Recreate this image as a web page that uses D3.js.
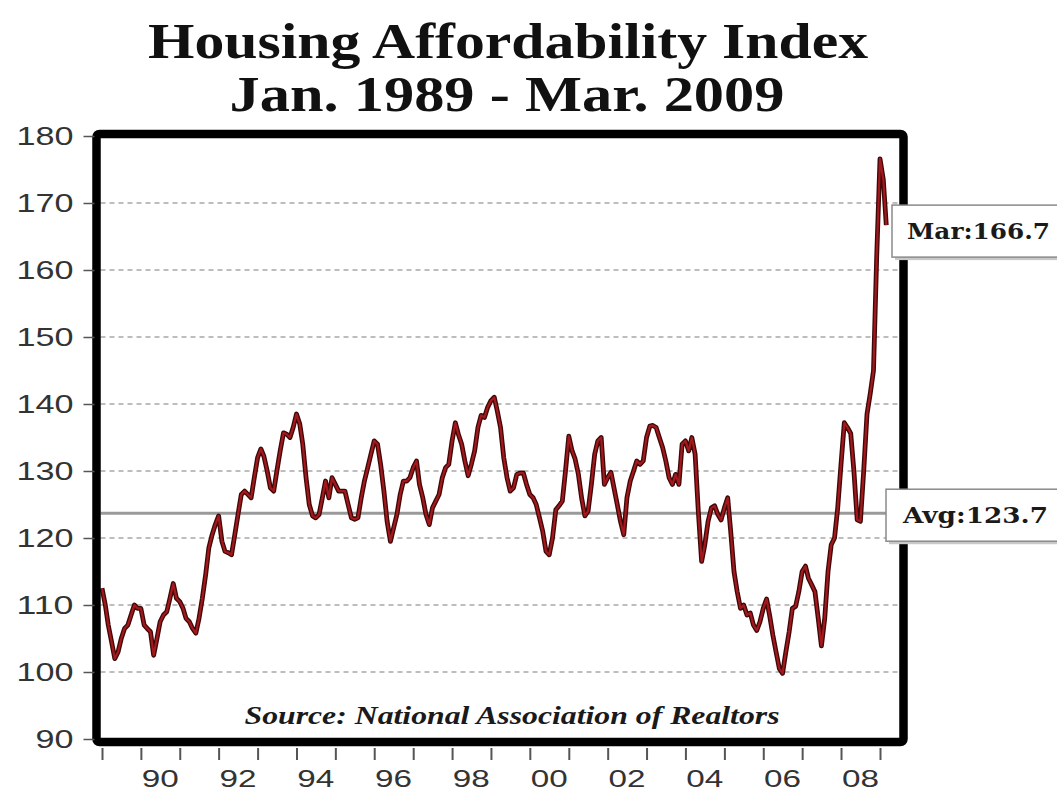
<!DOCTYPE html>
<html>
<head>
<meta charset="utf-8">
<script src="https://cdn.jsdelivr.net/npm/d3@7"></script>
<style>
  html, body { margin: 0; padding: 0; background: #ffffff; }
  svg { display: block; }
</style>
</head>
<body>
<svg id="chart" width="1057" height="793"></svg>
<script>
// Monthly Housing Affordability Index, Jan 1989 onward
const startYear = 1989;
const haiValues = [
  // 1989
  112.5, 110, 107, 104.5, 102, 103, 105, 106.5, 107, 108.5, 110, 109.5,
  // 1990
  109.5, 107, 106.5, 106, 102.5, 105, 107.5, 108.5, 109, 111, 113.2, 111,
  // 1991
  110.5, 109.5, 108, 107.5, 106.5, 105.8, 108, 111, 114.5, 118.5, 120.5, 122,
  // 1992
  123.3, 119.5, 118, 117.8, 117.5, 120.5, 123.5, 126.5, 127, 126.5, 126, 129,
  // 1993
  132, 133.3, 132.2, 130, 127.5, 127, 130, 133, 135.7, 135.5, 135, 136.5,
  // 1994
  138.5, 137, 134, 129, 125, 123.3, 123, 123.5, 126, 128.5, 126, 129,
  // 1995
  128, 127, 127, 127, 125, 123, 122.8, 123, 126, 128.5, 130.5, 132.5,
  // 1996
  134.5, 134, 131, 127, 122.5, 119.5, 121.5, 123.5, 126.5, 128.5, 128.5, 129,
  // 1997
  130.5, 131.5, 128, 126, 123.5, 122, 124.5, 125.5, 126.5, 129, 130.5, 131,
  // 1998
  134.5, 137.2, 135.5, 134, 131.5, 129.3, 131, 133, 136.5, 138.3, 138, 139.5,
  // 1999
  140.5, 141, 139, 136.5, 132, 129, 127, 127.5, 129.5, 129.7, 129.7, 128,
  // 2000
  126.5, 126, 125, 123, 121, 118, 117.5, 120, 124.2, 124.8, 125.5, 130,
  // 2001
  135.2, 133, 131.8, 129.5, 126, 123.3, 124, 128, 132.5, 134.5, 135, 128,
  // 2002
  129, 129.8, 127.5, 125, 122.5, 120.5, 126, 128.5, 130, 131.5, 131, 131.5,
  // 2003
  135, 136.7, 136.8, 136.5, 135, 133.5, 131.5, 129, 128, 129.5, 128, 134,
  // 2004
  134.5, 133, 135, 132.5, 124, 116.5, 119, 122.5, 124.5, 124.8, 123.5, 122.7,
  // 2005
  124.5, 126, 121, 115, 112, 109.5, 110, 108.5, 108.8, 107, 106.2, 107.5,
  // 2006
  109.5, 110.9, 108.5, 105.5, 103, 100.5, 99.8, 103, 106, 109.5, 109.8, 112,
  // 2007
  115, 115.8, 114, 113, 112, 108, 103.9, 108, 115, 119, 120, 124.5,
  // 2008
  131, 137.2, 136.5, 135.6, 130, 122.7, 122.5, 130, 138.5, 141.5, 145, 162,
  // 2009
  176.6, 173.5, 166.7
];
const averageValue = 123.7;
const yTickValues = [90, 100, 110, 120, 130, 140, 150, 160, 170, 180];
const gridValues = [100, 110, 120, 130, 140, 150, 160, 170];
const tickYears = d3.range(1989, 2010);
const labelYears = [1990, 1992, 1994, 1996, 1998, 2000, 2002, 2004, 2006, 2008];
const titleLines = ["Housing Affordability Index", "Jan. 1989 - Mar. 2009"];
const sourceText = "Source: National Association of Realtors";
const lastLabel = "Mar:";
const avgLabel = "Avg:";

const series = haiValues.map((v, i) => ({ date: new Date(startYear, i, 1), value: v }));
const last = series[series.length - 1];

const svg = d3.select("#chart");

const x = d3.scaleTime()
  .domain([new Date(1989, 0, 1), new Date(2009, 0, 1)])
  .range([102, 880]);
const y = d3.scaleLinear().domain([90, 180]).range([739, 136]);

const frame = { left: 96.5, right: 903.5, top: 134, bottom: 742 };

// Title
const titleG = svg.append("g")
  .attr("font-family", "'Liberation Serif', 'DejaVu Serif', serif")
  .attr("font-weight", "bold")
  .attr("fill", "#111");
titleG.append("text")
  .attr("x", 508).attr("y", 58)
  .attr("text-anchor", "middle")
  .attr("font-size", 50)
  .attr("textLength", 720).attr("lengthAdjust", "spacingAndGlyphs")
  .text(titleLines[0]);
titleG.append("text")
  .attr("x", 507).attr("y", 111)
  .attr("text-anchor", "middle")
  .attr("font-size", 50)
  .attr("textLength", 555).attr("lengthAdjust", "spacingAndGlyphs")
  .text(titleLines[1]);

// Dashed horizontal gridlines
svg.append("g")
  .selectAll("line")
  .data(gridValues)
  .join("line")
  .attr("x1", frame.left + 4).attr("x2", frame.right - 4)
  .attr("y1", d => y(d)).attr("y2", d => y(d))
  .attr("stroke", "#a8a8a8")
  .attr("stroke-width", 1.6)
  .attr("stroke-dasharray", "5,4");

// Average line
svg.append("line")
  .attr("x1", frame.left + 4).attr("x2", 888)
  .attr("y1", y(averageValue)).attr("y2", y(averageValue))
  .attr("stroke", "#9a9a9a")
  .attr("stroke-width", 3);

// Index line: dark edge under a red core
const line = d3.line()
  .x(d => x(d.date))
  .y(d => y(d.value));
svg.append("path")
  .datum(series)
  .attr("fill", "none")
  .attr("stroke", "#3c0808")
  .attr("stroke-width", 4.8)
  .attr("stroke-linejoin", "round")
  .attr("d", line);
svg.append("path")
  .datum(series)
  .attr("fill", "none")
  .attr("stroke", "#a3181c")
  .attr("stroke-width", 2.2)
  .attr("stroke-linejoin", "round")
  .attr("d", line);

// Source note
svg.append("text")
  .attr("x", 512).attr("y", 724)
  .attr("text-anchor", "middle")
  .attr("font-family", "'Liberation Serif', 'DejaVu Serif', serif")
  .attr("font-weight", "bold")
  .attr("font-style", "italic")
  .attr("font-size", 26)
  .attr("textLength", 535).attr("lengthAdjust", "spacingAndGlyphs")
  .attr("fill", "#1a1a1a")
  .text(sourceText);

// Frame
svg.append("rect")
  .attr("x", frame.left).attr("y", frame.top)
  .attr("width", frame.right - frame.left)
  .attr("height", frame.bottom - frame.top)
  .attr("rx", 3)
  .attr("fill", "none")
  .attr("stroke", "#000")
  .attr("stroke-width", 8.5);

// Y axis
const yAxis = d3.axisLeft(y)
  .tickValues(yTickValues)
  .tickSize(11)
  .tickPadding(10)
  .tickFormat(d3.format("d"));
const yG = svg.append("g")
  .attr("transform", `translate(${frame.left - 2},0)`)
  .call(yAxis);
yG.select(".domain").remove();
yG.selectAll(".tick line").attr("stroke", "#555").attr("stroke-width", 1.5);
yG.selectAll(".tick text")
  .attr("font-family", "'Liberation Sans', Arial, sans-serif")
  .attr("font-size", 26)
  .attr("fill", "#333")
  .attr("textLength", function () { return this.textContent.length * 19; })
  .attr("lengthAdjust", "spacingAndGlyphs");

// X axis: yearly ticks, labels centred in alternate years
const xAxis = d3.axisBottom(x)
  .tickValues(tickYears.map(yr => new Date(yr, 0, 1)))
  .tickSize(12)
  .tickFormat("");
const xG = svg.append("g")
  .attr("transform", `translate(0,${frame.bottom + 6})`)
  .call(xAxis);
xG.select(".domain").remove();
xG.selectAll(".tick line").attr("stroke", "#555").attr("stroke-width", 2);

svg.append("g")
  .selectAll("text")
  .data(labelYears)
  .join("text")
  .attr("x", d => x(new Date(d, 6, 1)))
  .attr("y", 787)
  .attr("text-anchor", "middle")
  .attr("font-family", "'Liberation Sans', Arial, sans-serif")
  .attr("font-size", 24)
  .attr("fill", "#333")
  .attr("textLength", 37)
  .attr("lengthAdjust", "spacingAndGlyphs")
  .text(d => d3.timeFormat("%y")(new Date(d, 0, 1)));

// Value callout boxes
function callout(xLeft, yCenter, label, textX, textLen) {
  const h = 52;
  const g = svg.append("g");
  g.append("rect")
    .attr("x", xLeft + 3).attr("y", yCenter - h / 2 + 3)
    .attr("width", 1057 - xLeft).attr("height", h)
    .attr("fill", "#c8c8c8");
  g.append("rect")
    .attr("x", xLeft).attr("y", yCenter - h / 2)
    .attr("width", 1057 - xLeft + 10).attr("height", h)
    .attr("fill", "#fff")
    .attr("stroke", "#8a8a8a")
    .attr("stroke-width", 1.5);
  g.append("text")
    .attr("x", textX).attr("y", yCenter + 8)
    .attr("font-family", "'DejaVu Serif', 'Liberation Serif', serif")
    .attr("font-weight", "bold")
    .attr("font-size", 23)
    .attr("fill", "#1a1a1a")
    .attr("textLength", textLen).attr("lengthAdjust", "spacingAndGlyphs")
    .text(label);
}
callout(892, y(last.value) + 6, lastLabel + last.value.toFixed(1), 907, 143);
callout(886, y(averageValue) + 2, avgLabel + averageValue.toFixed(1), 903, 145);
</script>
</body>
</html>
